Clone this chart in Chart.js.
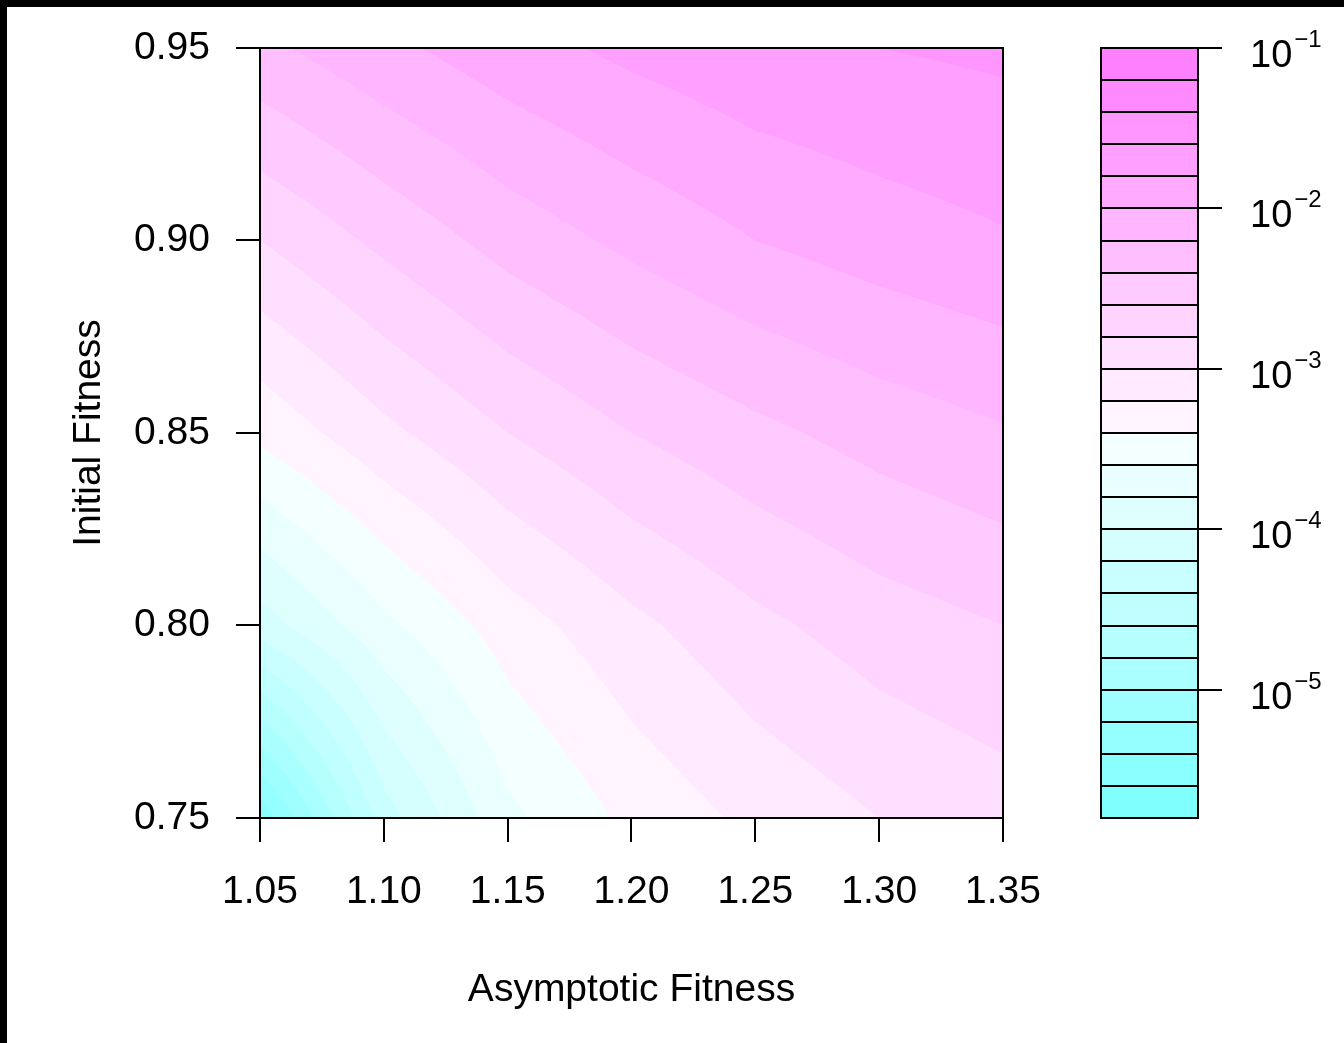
<!DOCTYPE html>
<html>
<head>
<meta charset="utf-8">
<script src="https://cdn.jsdelivr.net/npm/chart.js@4.4.1/dist/chart.umd.min.js"></script>
<style>
  html, body { margin: 0; padding: 0; background: #000; }
  #wrap { position: absolute; left: 7px; top: 7px; width: 1337px; height: 1036px; background: #fff; }
  canvas { display: block; }
</style>
</head>
<body>
<div id="wrap"><canvas id="fitnessChart" width="1337" height="1036"></canvas></div>
<script>
// grid of the simulation
const asymFitness = [1.05, 1.10, 1.15, 1.20, 1.25, 1.30, 1.35];
const initFitness = [0.75, 0.80, 0.85, 0.90, 0.95];
// log10 of the probability, one row per initial fitness (bottom row first)
const logProb = [
    [-5.55, -4.30, -3.65, -3.35, -3.15, -3.00, -2.90],
    [-4.10, -3.65, -3.30, -3.05, -2.85, -2.70, -2.60],
    [-3.35, -3.05, -2.80, -2.60, -2.45, -2.32, -2.22],
    [-2.80, -2.55, -2.32, -2.15, -2.00, -1.90, -1.82],
    [-2.25, -2.05, -1.88, -1.75, -1.65, -1.60, -1.56]
];

const xTicks = [1.05, 1.10, 1.15, 1.20, 1.25, 1.30, 1.35];
const yTicks = [0.75, 0.80, 0.85, 0.90, 0.95];

// colour key: level boundaries (log10) and the 24 fill colours (cm.colors)
const keyLevels = [-5.8, -5.6, -5.4, -5.2, -5.0, -4.8, -4.6, -4.4, -4.2, -4.0, -3.8, -3.6, -3.4,
                   -3.2, -3.0, -2.8, -2.6, -2.4, -2.2, -2.0, -1.8, -1.6, -1.4, -1.2, -1.0];
const keyColors = ['#80FFFF', '#8AFFFF', '#95FFFF', '#9FFFFF', '#AAFFFF', '#B5FFFF',
                   '#BFFFFF', '#CAFFFF', '#D5FFFF', '#DFFFFF', '#EAFFFF', '#F4FFFF',
                   '#FFF4FF', '#FFEAFF', '#FFDFFF', '#FFD5FF', '#FFCAFF', '#FFBFFF',
                   '#FFB5FF', '#FFAAFF', '#FF9FFF', '#FF95FF', '#FF8AFF', '#FF80FF'];
const keyTicks = [-5, -4, -3, -2, -1];

const FONT = '"Liberation Sans", Arial, Helvetica, sans-serif';

function valueAt(xv, yv) {
    let i = 0;
    while (i < asymFitness.length - 2 && xv > asymFitness[i + 1]) i++;
    let j = 0;
    while (j < initFitness.length - 2 && yv > initFitness[j + 1]) j++;
    const tx = Math.min(1, Math.max(0, (xv - asymFitness[i]) / (asymFitness[i + 1] - asymFitness[i])));
    const ty = Math.min(1, Math.max(0, (yv - initFitness[j]) / (initFitness[j + 1] - initFitness[j])));
    return logProb[j][i] * (1 - tx) * (1 - ty) + logProb[j][i + 1] * tx * (1 - ty) +
           logProb[j + 1][i] * (1 - tx) * ty + logProb[j + 1][i + 1] * tx * ty;
}

function levelIndex(v) {
    let k = 0;
    while (k < keyColors.length - 1 && v >= keyLevels[k + 1]) k++;
    return k;
}

// filled contour drawn through the x / y scales
const contourPlugin = {
    id: 'contour',
    beforeDatasetsDraw(chart) {
        const { ctx, chartArea: a, scales: { x, y } } = chart;
        const left = Math.round(a.left), right = Math.round(a.right);
        const top = Math.round(a.top), bottom = Math.round(a.bottom);
        const xs = [];
        for (let px = left; px < right; px++) xs.push(x.getValueForPixel(px + 0.5));
        ctx.save();
        for (let py = top; py < bottom; py++) {
            const yv = y.getValueForPixel(py + 0.5);
            let start = 0;
            let cur = levelIndex(valueAt(xs[0], yv));
            for (let c = 1; c <= xs.length; c++) {
                const k = c < xs.length ? levelIndex(valueAt(xs[c], yv)) : -1;
                if (k !== cur) {
                    ctx.fillStyle = keyColors[cur];
                    ctx.fillRect(left + start, py, c - start, 1);
                    start = c;
                    cur = k;
                }
            }
        }
        ctx.restore();
    },
    afterDatasetsDraw(chart) {
        const { ctx, chartArea: a } = chart;
        ctx.save();
        ctx.strokeStyle = '#000';
        ctx.lineWidth = 2;
        ctx.strokeRect(a.left, a.top, a.right - a.left, a.bottom - a.top);
        ctx.restore();
    }
};

// colour key on the right
const keyPlugin = {
    id: 'colorKey',
    afterDraw(chart) {
        const { ctx, chartArea: a, scales: { cb } } = chart;
        const kl = a.right + 98, kw = 97;
        ctx.save();
        for (let k = 0; k < keyColors.length; k++) {
            const y0 = cb.getPixelForValue(Math.pow(10, keyLevels[k]));
            const y1 = cb.getPixelForValue(Math.pow(10, keyLevels[k + 1]));
            ctx.fillStyle = keyColors[k];
            ctx.fillRect(kl, y1, kw, y0 - y1);
        }
        ctx.strokeStyle = '#000';
        ctx.lineWidth = 2;
        for (let k = 1; k < keyLevels.length - 1; k++) {
            const yy = Math.round(cb.getPixelForValue(Math.pow(10, keyLevels[k])));
            ctx.beginPath();
            ctx.moveTo(kl, yy);
            ctx.lineTo(kl + kw, yy);
            ctx.stroke();
        }
        const yTop = cb.getPixelForValue(Math.pow(10, keyLevels[keyLevels.length - 1]));
        const yBot = cb.getPixelForValue(Math.pow(10, keyLevels[0]));
        ctx.strokeRect(kl, yTop, kw, yBot - yTop);

        ctx.fillStyle = '#000';
        ctx.textBaseline = 'alphabetic';
        ctx.textAlign = 'left';
        keyTicks.forEach(e => {
            const yy = Math.round(cb.getPixelForValue(Math.pow(10, e)));
            ctx.beginPath();
            ctx.moveTo(kl + kw, yy);
            ctx.lineTo(kl + kw + 24, yy);
            ctx.stroke();
            ctx.font = '38px ' + FONT;
            ctx.fillText('10', kl + kw + 52, yy + 19);
            const w = ctx.measureText('10').width;
            ctx.font = '24px ' + FONT;
            ctx.fillText('\u2212' + Math.abs(e), kl + kw + 54 + w, yy - 1);
        });
        ctx.restore();
    }
};

const points = [];
initFitness.forEach((fy, j) => asymFitness.forEach((fx, i) => points.push({ x: fx, y: fy, v: logProb[j][i] })));

const tickFont = { family: FONT, size: 39 };

new Chart(document.getElementById('fitnessChart').getContext('2d'), {
    type: 'scatter',
    data: {
        datasets: [{
            label: 'log10 probability',
            data: points,
            pointRadius: 0,
            showLine: false
        }]
    },
    options: {
        responsive: false,
        animation: false,
        layout: { padding: { top: 41, right: 341, left: 0, bottom: 0 } },
        plugins: { legend: { display: false }, tooltip: { enabled: false } },
        scales: {
            x: {
                type: 'linear',
                min: 1.05,
                max: 1.35,
                afterBuildTicks: s => { s.ticks = xTicks.map(v => ({ value: v })); },
                afterFit: s => { s.height = 225; s.paddingLeft = 0; s.paddingRight = 0; },
                ticks: {
                    color: '#000', font: tickFont, padding: 27, autoSkip: false, maxRotation: 0,
                    callback: v => Number(v).toFixed(2)
                },
                grid: { drawOnChartArea: false, drawTicks: true, tickLength: 24, color: '#000', lineWidth: 2 },
                border: { display: false },
                title: { display: true, text: 'Asymptotic Fitness', color: '#000', font: tickFont, padding: { top: 0, bottom: 29 } }
            },
            y: {
                type: 'linear',
                min: 0.75,
                max: 0.95,
                afterBuildTicks: s => { s.ticks = yTicks.map(v => ({ value: v })); },
                afterFit: s => { s.width = 253; s.paddingTop = 0; s.paddingBottom = 0; },
                ticks: {
                    color: '#000', font: tickFont, padding: 26, autoSkip: false,
                    callback: v => Number(v).toFixed(2)
                },
                grid: { drawOnChartArea: false, drawTicks: true, tickLength: 24, color: '#000', lineWidth: 2 },
                border: { display: false },
                title: { display: true, text: 'Initial Fitness', color: '#000', font: tickFont, padding: { top: 59, bottom: 0 } }
            },
            cb: {
                type: 'logarithmic',
                position: 'right',
                display: false,
                min: Math.pow(10, keyLevels[0]),
                max: Math.pow(10, keyLevels[keyLevels.length - 1])
            }
        }
    },
    plugins: [contourPlugin, keyPlugin]
});
</script>
</body>
</html>
